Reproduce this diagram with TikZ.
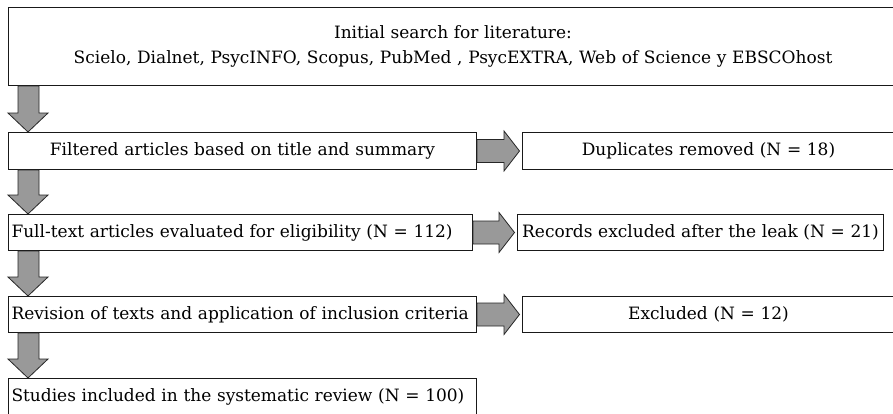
\documentclass[tikz,border=0pt]{standalone}
\usepackage{fontspec}
\setmainfont{DejaVu Serif}
\usetikzlibrary{calc}
\begin{document}
\begin{tikzpicture}[x=1pt,y=-1pt,
  box/.style={draw=black!90, line width=1pt, anchor=north west, inner xsep=3pt, inner ysep=0pt,
    font=\fontsize{17}{25}\selectfont},
  cbox/.style={box, align=center},
  lbox/.style={box, align=left},
  blockarrow/.style={draw=black!85, line width=0.8pt, fill=black!40, line join=miter}]
\useasboundingbox (0,0) rectangle (893,413);
\fill[white] (0,0) rectangle (893,413);

% left column: the main flow
\node[cbox, text width=883pt, minimum height=78pt] (search) at (8,7)
  {Initial search for literature:\\Scielo, Dialnet, PsycINFO, Scopus, PubMed , PsycEXTRA, Web of Science y EBSCOhost};
\node[cbox, text width=462pt, minimum height=37pt] (filter) at (8,132)
  {Filtered articles based on title and summary};
\node[lbox, text width=458pt, minimum height=36pt] (full) at (8,214)
  {Full-text articles evaluated for eligibility (N = 112)};
\node[lbox, text width=462pt, minimum height=36pt] (revision) at (8,296)
  {Revision of texts and application of inclusion criteria};
\node[lbox, text width=462pt, minimum height=36pt] (studies) at (8,378)
  {Studies included in the systematic review (N = 100)};

% right column: records left out at each step
\node[cbox, text width=366pt, minimum height=37pt] (dup) at (522,132)
  {Duplicates removed (N = 18)};
\node[cbox, text width=360pt, minimum height=36pt] (leak) at (517,214)
  {Records excluded after the leak (N = 21)};
\node[cbox, text width=366pt, minimum height=36pt] (excl) at (522,296)
  {Excluded (N = 12)};

% downward block arrows, aligned with the left edge of the boxes
\foreach \a/\b in {search/filter, filter/full, full/revision, revision/studies}{
  \draw[blockarrow] let \p1=(\a.south west), \p2=(\b.north west) in
    (\x1+10,\y1) -- (\x1+31,\y1) -- (\x1+31,\y2+19) -- (\x1+40,\y2+19)
    -- (\x1+20,\y2) -- (\x1,\y2+19) -- (\x1+10,\y2+19) -- cycle;
}

% rightward block arrows
\foreach \a/\b in {filter/dup, full/leak, revision/excl}{
  \draw[blockarrow] let \p1=(\a.east), \p2=(\b.west) in
    (\x1,\y1+11.5) -- (\x2-18,\y1+11.5) -- (\x2-18,\y1+20) -- (\x2-2.5,\y1)
    -- (\x2-18,\y1-20) -- (\x2-18,\y1-11.5) -- (\x1,\y1-11.5) -- cycle;
}
\end{tikzpicture}
\end{document}
